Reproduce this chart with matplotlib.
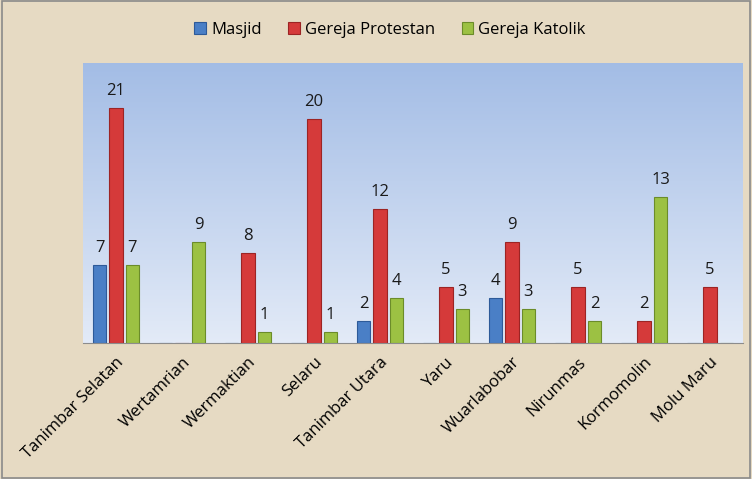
import numpy as np
import matplotlib.pyplot as plt

categories = ['Tanimbar Selatan', 'Wertamrian', 'Wermaktian', 'Selaru', 'Tanimbar Utara',
              'Yaru', 'Wuarlabobar', 'Nirunmas', 'Kormomolin', 'Molu Maru']
masjid = [7, 0, 0, 0, 2, 0, 4, 0, 0, 0]
protestan = [21, 0, 8, 20, 12, 5, 9, 5, 2, 5]
katolik = [7, 9, 1, 1, 4, 3, 3, 2, 13, 0]

plt.rcParams['font.family'] = ['Open Sans', 'DejaVu Sans']

fig = plt.figure(figsize=(7.52, 4.79), dpi=100)
fig.patch.set_facecolor('#e6dac3')
fig.patches.append(plt.Rectangle((0.002, 0.002), 0.996, 0.996, transform=fig.transFigure,
                                 fill=False, edgecolor='#8a8a8a', linewidth=1.2))

ax = fig.add_axes([83 / 752, 1 - 343 / 479, 660 / 752, 280 / 479])
ax.set_xlim(-0.5, len(categories) - 0.5)
ax.set_ylim(0, 25)

# gradient background of the plot area
grad = np.linspace(0, 1, 256).reshape(-1, 1)
top = np.array([0.64, 0.74, 0.90])
bottom = np.array([0.89, 0.92, 0.97])
img = bottom + (top - bottom) * grad
ax.imshow(img[:, None, :].repeat(2, axis=1), extent=[-0.5, len(categories) - 0.5, 0, 25],
          origin='lower', aspect='auto', zorder=0)

x = np.arange(len(categories))
w = 0.21
off = 0.25
series = [
    (masjid, 'Masjid', '#4a7fc6', '#2d5a99', -off),
    (protestan, 'Gereja Protestan', '#d53a3a', '#9c2424', 0),
    (katolik, 'Gereja Katolik', '#9cc143', '#6b8c2a', off),
]
for vals, name, col, edge, o in series:
    v = np.array(vals)
    bars = ax.bar(x + o, v, width=w, color=col, edgecolor=edge, linewidth=0.8,
                  label=name, zorder=2)
    for xi, vi in zip(x + o, v):
        if vi > 0:
            ax.text(xi, vi + 0.8, str(vi), ha='center', va='bottom', fontsize=12,
                    color='#1a1a1a', zorder=3)

for s in ['top', 'right', 'left']:
    ax.spines[s].set_visible(False)
ax.spines['bottom'].set_color('#8c8c8c')
ax.set_yticks([])
ax.set_xticks(x)
ax.set_xticklabels(categories, rotation=45, ha='right', rotation_mode='anchor', fontsize=12)
ax.tick_params(axis='x', length=0, pad=8)

leg = fig.legend(loc='center', bbox_to_anchor=(390 / 752, 1 - 30 / 479), ncol=3,
                 frameon=False, fontsize=12, handlelength=0.7, handleheight=0.7,
                 handletextpad=0.3, columnspacing=1.6)

fig.savefig('out.png', dpi=100, facecolor=fig.get_facecolor())
